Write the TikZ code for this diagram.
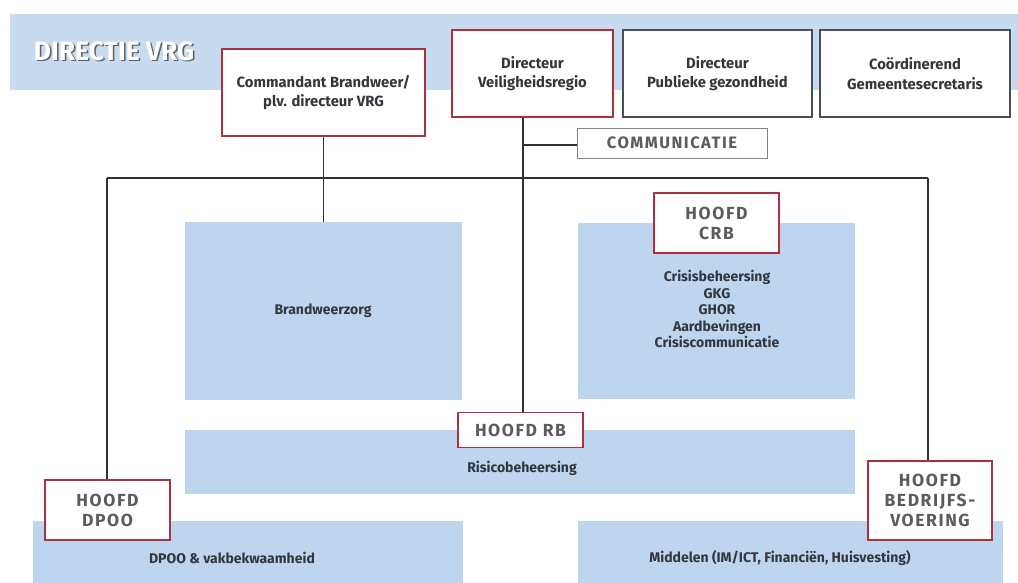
\documentclass[tikz,border=0pt]{standalone}
\usepackage{fontspec}
\setmainfont{Fira Sans}
\newfontfamily\spaced[LetterSpace=9]{Fira Sans}
\definecolor{band}{HTML}{C6DAF0}
\definecolor{unit}{HTML}{BDD5EF}
\definecolor{redb}{HTML}{A8323E}
\definecolor{grayb}{HTML}{4A4F57}
\definecolor{txt}{HTML}{33363B}
\definecolor{hoofdtxt}{HTML}{5A5C60}
\definecolor{linec}{HTML}{2F3236}
\begin{document}
\begin{tikzpicture}[x=1pt,y=-1pt,
  dirbox/.style={draw=redb,line width=1.3pt,fill=white,align=center,font=\fontsize{14.8}{19.5}\selectfont\bfseries,text=txt,inner sep=0pt},
  graybox/.style={dirbox,draw=grayb},
  hoofd/.style={draw=redb,line width=1.3pt,fill=white,align=center,font=\fontsize{17.5}{20}\selectfont\spaced\bfseries,text=hoofdtxt,inner sep=0pt},
  unitbox/.style={fill=unit,draw=none,inner sep=0pt},
  unittxt/.style={align=center,font=\fontsize{14}{16.5}\selectfont\bfseries,text=txt,inner sep=0pt},
  conn/.style={draw=linec,line width=1.7pt}]
\useasboundingbox (0,0) rectangle (1018,582);
\fill[white] (0,0) rectangle (1018,582);
% band
\node[unitbox,fill=band,minimum width=1008,minimum height=76] (band) at (514,52) {};
\node[text=gray!75!black,font=\fontsize{26.5}{30}\selectfont\bfseries,inner sep=0pt] (dirshadow) at (115.5,52.5) {DIRECTIE VRG};
\node[text=white,font=\fontsize{26.5}{30}\selectfont\bfseries,inner sep=0pt] (dirlabel) at (114,51) {DIRECTIE VRG};
% unit boxes
\node[unitbox,minimum width=277,minimum height=178] (brand) at (323.5,311) {};
\node[unitbox,minimum width=277,minimum height=176] (crisis) at (716.5,311) {};
\node[unitbox,minimum width=670,minimum height=64] (risico) at (520,462) {};
\node[unitbox,minimum width=430,minimum height=70] (dpoo) at (248,556) {};
\node[unitbox,minimum width=425,minimum height=70] (middelen) at (790.5,556) {};
\node[unittxt] (brandt) at (323,311) {Brandweerzorg};
\node[unittxt] (crisist) at (717,309) {Crisisbeheersing\\GKG\\GHOR\\Aardbevingen\\Crisiscommunicatie};
\node[unittxt] (risicot) at (522,468) {Risicobeheersing};
\node[unittxt] (dpoot) at (232,558) {DPOO \& vakbekwaamheid};
\node[unittxt] (middelent) at (780,558) {Middelen (IM/ICT, Financiën, Huisvesting)};
% connectors
\coordinate (hl) at (107,178);
\coordinate (hr) at (928,178);
\coordinate (cm) at (523,145);
% directie boxes
\node[dirbox,minimum width=203,minimum height=87] (cmd) at (323.5,92.5) {Commandant Brandweer/\\plv. directeur VRG};
\node[dirbox,minimum width=161,minimum height=87] (dvr) at (532.5,73.5) {Directeur\\Veiligheidsregio};
\node[graybox,minimum width=189,minimum height=87] (dpg) at (717.5,73.5) {Directeur\\Publieke gezondheid};
\node[graybox,minimum width=190,minimum height=87] (cgs) at (915,73.5) {Coördinerend\\Gemeentesecretaris};
\node[draw=grayb!70,line width=1pt,fill=white,minimum width=190,minimum height=30,inner sep=0pt,font=\fontsize{16.5}{18}\selectfont\spaced\bfseries,text=hoofdtxt] (comm) at (672,143) {COMMUNICATIE};
% hoofd boxes
\node[hoofd,minimum width=125,minimum height=60] (hcrb) at (716.5,223) {HOOFD\\CRB};
\node[hoofd,minimum width=125,minimum height=35] (hrb) at (520.5,430) {HOOFD RB};
\node[hoofd,minimum width=125,minimum height=60] (hdpoo) at (107.5,510) {HOOFD\\DPOO};
\node[hoofd,minimum width=124,minimum height=79] (hbv) at (930,500.5) {HOOFD\\BEDRIJFS-\\VOERING};
\draw[conn] (dvr.south -| cm) -- (hrb.north -| cm);
\draw[conn] (cm) -- (comm.west |- cm);
\draw[conn] (hl) -- (hr);
\draw[conn] (cmd.south) -- (brand.north -| cmd.south);
\draw[conn] (hl) -- (hdpoo.north -| hl);
\draw[conn] (hr) -- (hbv.north -| hr);
\end{tikzpicture}
\end{document}
